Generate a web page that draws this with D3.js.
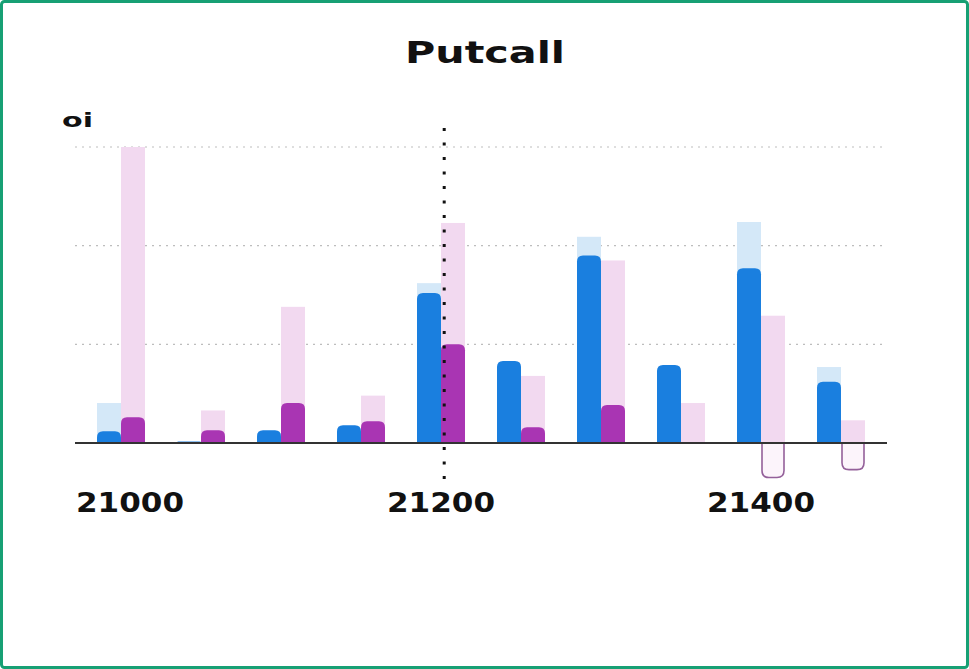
<!DOCTYPE html>
<html>
<head>
<meta charset="utf-8">
<script src="https://cdn.jsdelivr.net/npm/d3@7/dist/d3.min.js"></script>
<style>
  html, body { margin: 0; padding: 0; background: #fff; }
  svg { display: block; }
  text { font-family: "DejaVu Sans", sans-serif; font-weight: bold; fill: #111; }
</style>
</head>
<body>
<svg id="chart" width="969" height="669"></svg>
<script>
// ---- data ----
const strikes   = [21000, 21050, 21100, 21150, 21200, 21250, 21300, 21350, 21400, 21450];
const callOI    = [4.05, 0.1, 1.0, 1.2, 16.2, 7.5, 20.9, 7.0, 22.4, 7.7];
const callChg   = [1.2, 0.15, 1.3, 1.8, 15.2, 8.3, 19.0, 7.9, 17.7, 6.2];
const putOI     = [30.0, 3.3, 13.8, 4.8, 22.3, 6.8, 18.5, 4.05, 12.9, 2.3];
const putChg    = [2.6, 1.3, 4.05, 2.2, 10.0, 1.6, 3.85, 0, -3.5, -2.7];
const gridTicks = [10, 20, 30];
const xTickLabels = [21000, 21200, 21400];
const spot = 21202;
const title = "Putcall";
const yLabel = "oi";

// ---- layout ----
const svg = d3.select("#chart");
const W = 969, H = 669;
const x = d3.scaleLinear().domain([21000, 21450]).range([121, 841]);
const y = d3.scaleLinear().domain([0, 30]).range([443, 147]);
const bw = 24;
const colors = { callOI: "#d4e8f8", callChg: "#1a7fdf", putOI: "#f2d9f0", putChg: "#a935b3" };

// border
svg.append("rect").attr("x", 1.5).attr("y", 1.5).attr("width", W - 3).attr("height", H - 3)
  .attr("rx", 3).attr("fill", "none").attr("stroke", "#17a074").attr("stroke-width", 3);

// title
svg.append("text").attr("x", 405).attr("y", 63).attr("font-size", 31)
  .attr("textLength", 160).attr("lengthAdjust", "spacingAndGlyphs").text(title);

// y label
svg.append("text").attr("x", 62).attr("y", 127).attr("font-size", 20)
  .attr("textLength", 31).attr("lengthAdjust", "spacingAndGlyphs").text(yLabel);

// grid
const grid = svg.append("g");
grid.selectAll("line").data(gridTicks).join("line")
  .attr("x1", 75).attr("x2", 885)
  .attr("y1", d => y(d)).attr("y2", d => y(d))
  .attr("stroke", "#bdbdbd").attr("stroke-width", 1.2).attr("stroke-dasharray", "2,5");

const data = strikes.map((s, i) => ({ s, cOI: callOI[i], cChg: callChg[i], pOI: putOI[i], pChg: putChg[i] }));

function topRounded(x0, w, yTop, yBase, r) {
  const h = yBase - yTop;
  r = Math.min(r, h, w / 2);
  if (h <= 0) return "";
  return `M${x0},${yBase} L${x0},${yTop + r} Q${x0},${yTop} ${x0 + r},${yTop} L${x0 + w - r},${yTop} Q${x0 + w},${yTop} ${x0 + w},${yTop + r} L${x0 + w},${yBase} Z`;
}
function bottomRounded(x0, w, yBase, yBot, r) {
  const h = yBot - yBase;
  r = Math.min(r, h, w / 2);
  return `M${x0},${yBase} L${x0},${yBot - r} Q${x0},${yBot} ${x0 + r},${yBot} L${x0 + w - r},${yBot} Q${x0 + w},${yBot} ${x0 + w},${yBot - r} L${x0 + w},${yBase}`;
}

// light (total) bars
svg.append("g").selectAll("rect").data(data).join("rect")
  .attr("x", d => x(d.s) - bw).attr("width", bw)
  .attr("y", d => y(d.cOI)).attr("height", d => y(0) - y(d.cOI))
  .attr("fill", colors.callOI);
svg.append("g").selectAll("rect").data(data).join("rect")
  .attr("x", d => x(d.s)).attr("width", bw)
  .attr("y", d => y(d.pOI)).attr("height", d => y(0) - y(d.pOI))
  .attr("fill", colors.putOI);

// dark bars
svg.append("g").selectAll("path").data(data.filter(d => d.cChg > 0)).join("path")
  .attr("d", d => topRounded(x(d.s) - bw, bw, y(d.cChg), y(0), 6))
  .attr("fill", colors.callChg);
svg.append("g").selectAll("path").data(data.filter(d => d.pChg > 0)).join("path")
  .attr("d", d => topRounded(x(d.s), bw, y(d.pChg), y(0), 6))
  .attr("fill", colors.putChg);

// negative changes (outlined)
svg.append("g").selectAll("path").data(data.filter(d => d.pChg < 0)).join("path")
  .attr("d", d => bottomRounded(x(d.s) + 1, bw - 2, y(0), y(d.pChg), 7))
  .attr("fill", "#fcf4fb").attr("stroke", "#94609a").attr("stroke-width", 1.6);

// baseline
svg.append("line").attr("x1", 75).attr("x2", 887).attr("y1", y(0)).attr("y2", y(0))
  .attr("stroke", "#333").attr("stroke-width", 2);

// spot line
svg.append("line").attr("x1", x(spot)).attr("x2", x(spot)).attr("y1", 128).attr("y2", 490)
  .attr("stroke", "#111").attr("stroke-width", 3).attr("stroke-dasharray", "3,11.5");

// x tick labels
svg.append("g").selectAll("text").data(xTickLabels).join("text")
  .attr("x", d => x(d) + (d === 21000 ? 9 : 0)).attr("y", 512)
  .attr("text-anchor", "middle").attr("font-size", 26)
  .attr("textLength", 108).attr("lengthAdjust", "spacingAndGlyphs")
  .text(d => d);
</script>
</body>
</html>
